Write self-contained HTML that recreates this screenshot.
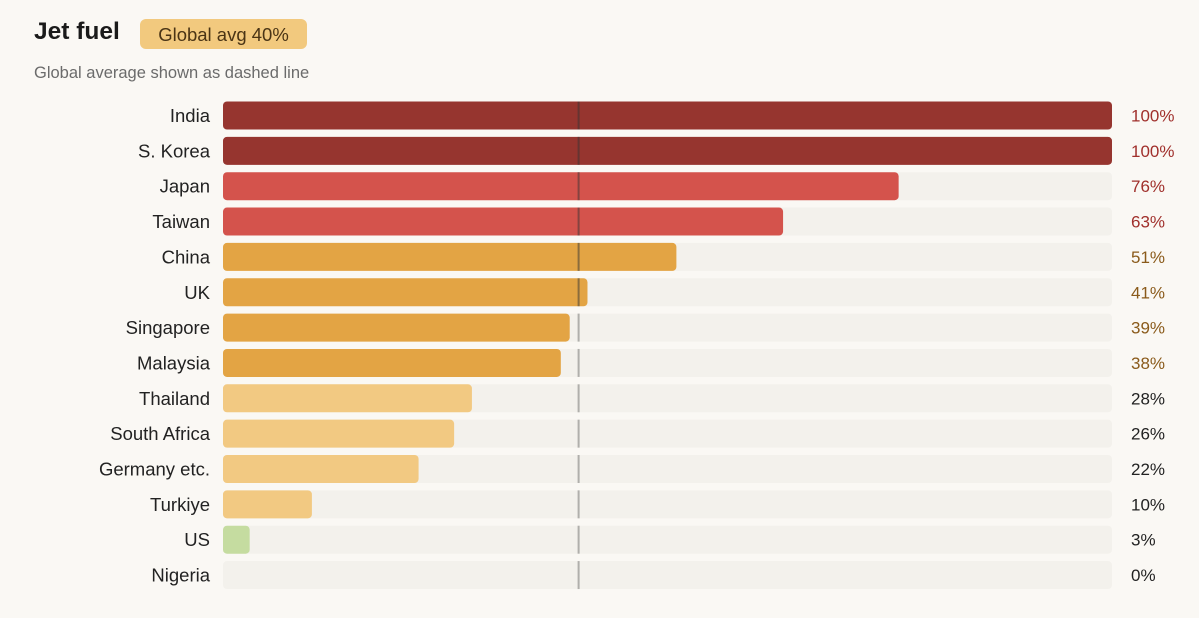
<!DOCTYPE html>
<html><head><meta charset="utf-8"><style>
body{margin:0;background:#faf8f4;width:1199px;height:618px;overflow:hidden;font-family:"Liberation Sans",sans-serif;}
</style></head><body>
<div style="position:absolute;left:34px;top:18px;font-size:24.5px;font-weight:bold;color:#1a1a1a;">Jet fuel</div>
<div style="position:absolute;left:140px;top:19px;width:167px;height:30px;background:#f2c97e;border-radius:6px;font-size:18.5px;color:#4a3415;line-height:31px;text-align:center;">Global avg 40%</div>
<div style="position:absolute;left:34px;top:64px;font-size:16.5px;color:#6b6b6b;">Global average shown as dashed line</div>
<svg id="c" width="1199" height="618" style="position:absolute;left:0;top:0"></svg>
<script>
const categories=["India","S. Korea","Japan","Taiwan","China","UK","Singapore","Malaysia","Thailand","South Africa","Germany etc.","Turkiye","US","Nigeria"];
const values=[100,100,76,63,51,41,39,38,28,26,22,10,3,0];
const globalAvg=40;
const svg=document.getElementById('c');
const NS='http://www.w3.org/2000/svg';
const x0=223,x1=1112;
const xs=v=>x0+(x1-x0)*v/100;
const yc=i=>115.5+i*35.35;
const bh=28;
function col(v){if(v>=90)return['#96352f','#a0302c'];if(v>=60)return['#d4534c','#a0302c'];if(v>=35)return['#e3a444','#8a5a1a'];if(v>=5)return['#f2c982','#222'];return['#c5dca0','#222'];}
function mk(t,a){const e=document.createElementNS(NS,t);for(const k in a)e.setAttribute(k,a[k]);svg.appendChild(e);return e;}
categories.forEach((c,i)=>{
 const y=yc(i)-bh/2;const v=values[i];const [f,tc]=col(v);
 const tr=mk('rect',{x:x0,y:y,width:x1-x0,height:bh,rx:4,fill:'#f3f1ec'});
 
 
 if(v>0){const b=mk('rect',{x:x0,y:y,width:xs(v)-x0,height:bh,rx:4,fill:f});
 
 }
 const ln=mk('line',{x1:xs(globalAvg),x2:xs(globalAvg),y1:y,y2:y+bh,stroke:'#333',"stroke-opacity":v>=globalAvg?0.5:0.35,"stroke-width":2});
 
 
 const l=mk('text',{x:210,y:yc(i)+6.5,"text-anchor":'end',"font-size":18.5,fill:'#222'});l.textContent=c;
 
 
 const vl=mk('text',{x:1131,y:yc(i)+6,"font-size":17,fill:tc});vl.textContent=v+'%';
 
 
});
</script>
</body></html>
